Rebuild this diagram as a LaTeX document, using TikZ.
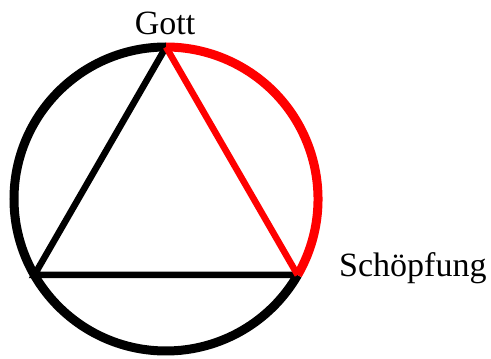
\documentclass[tikz,border=0pt]{standalone}
\usepackage{fontspec}
\setmainfont{Liberation Serif}
\usetikzlibrary{calc}
\begin{document}
\begin{tikzpicture}[x=1pt,y=1pt,
  ring/.style={line width=9pt},
  chord/.style={line width=6.5pt},
  lbl/.style={inner sep=0pt,font=\fontsize{34}{34}\selectfont}]
\useasboundingbox (0,0) rectangle (491,359);
\coordinate (C) at (166,160);
\coordinate (T) at ($(C)+(90:152)$);
\coordinate (L) at ($(C)+(210:152)$);
\coordinate (R) at ($(C)+(330:152)$);
% black parts
\draw[ring] (T) arc[start angle=90,end angle=330,radius=152];
\draw[chord,line join=miter] (R) -- (L) -- (T);
% red parts
\draw[ring,red] (R) arc[start angle=330,end angle=450,radius=152];
\draw[chord,red] (T) -- (R);
\node[lbl,anchor=base] (gott) at (165,324) {Gott};
\node[lbl,anchor=base west] (schoepfung) at (339,82) {Schöpfung};
\end{tikzpicture}
\end{document}
